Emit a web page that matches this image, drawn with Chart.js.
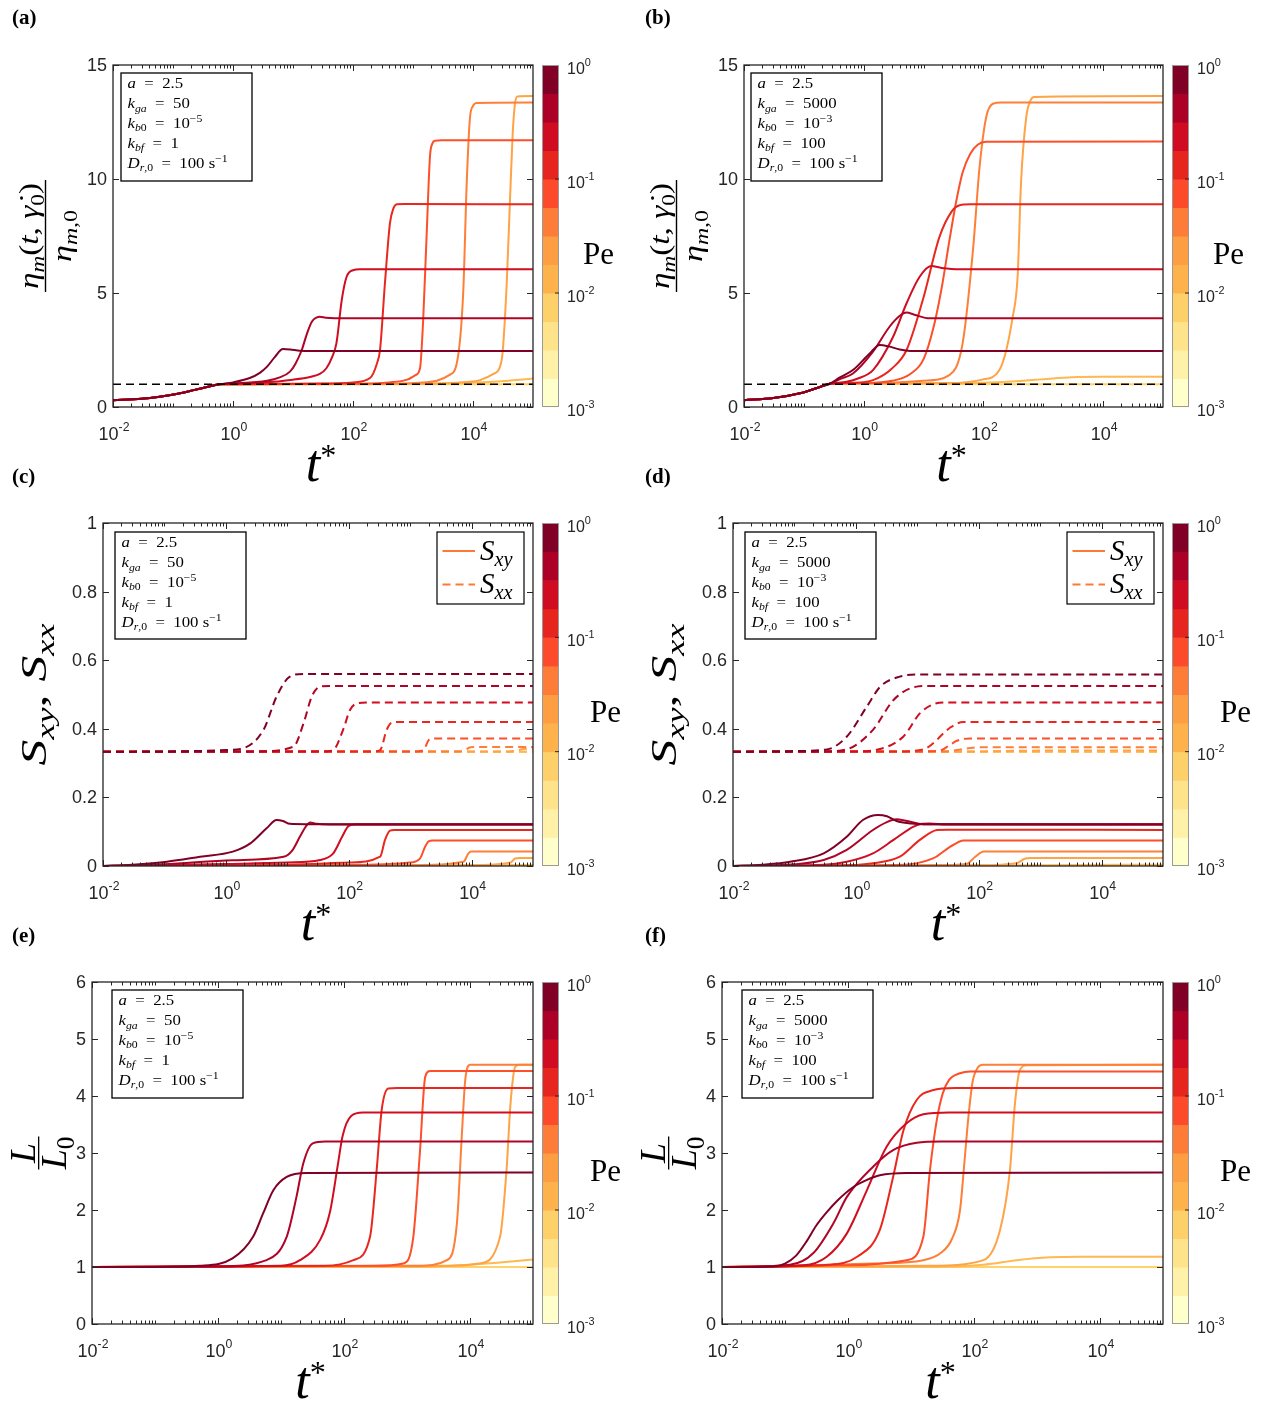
<!DOCTYPE html>
<html>
<head>
<meta charset="utf-8">
<script src="https://cdn.jsdelivr.net/npm/chart.js@4.4.1/dist/chart.umd.min.js"></script>
<style>
  html, body { margin: 0; padding: 0; background: #fff; }
  #fig { position: relative; width: 1266px; height: 1401px; }
  #fig canvas { position: absolute; left: 0; top: 0; }
</style>
</head>
<body>
<div id="fig">
  <canvas id="pa" width="1266" height="1401"></canvas>
  <canvas id="pb" width="1266" height="1401"></canvas>
  <canvas id="pc" width="1266" height="1401"></canvas>
  <canvas id="pd" width="1266" height="1401"></canvas>
  <canvas id="pe" width="1266" height="1401"></canvas>
  <canvas id="pf" width="1266" height="1401"></canvas>
</div>
<script>
// ---- axes / colour data ----
const T_MIN = 1e-2, T_MAX = 1e5;
const xMajorExp = [-2, 0, 2, 4];
const etaTicks = [0, 5, 10, 15];
const sTicks = [0, 0.2, 0.4, 0.6, 0.8, 1];
const lTicks = [0, 1, 2, 3, 4, 5, 6];
const peTickExp = [0, -1, -2, -3];
// colorbar bins, Pe = 1e-3 (bottom) ... 1 (top)
const peBins = ['#ffffcc', '#fff1a8', '#fee38a', '#fed06a', '#feb24c', '#fd9e43',
                '#fd7c38', '#fc4a2a', '#e6261e', '#cf0c22', '#ad0026', '#800026'];
// curve colours, highest Pe first
const lineColors = ['#800026', '#ae0426', '#d00d21', '#e8281e', '#fc4f2a',
                    '#fd7f38', '#fea346', '#feb951', '#fed36a'];
const refLine = [[1e-2, 1], [1e5, 1]];

// ---- (a) viscosity, kga = 50 ----
const etaEarlyA = [[0.01, 0.3], [0.03, 0.36], [0.06, 0.45], [0.12, 0.58], [0.23, 0.75], [0.4, 0.9], [0.6, 1.0]];
const etaA = [
  etaEarlyA.concat([[1, 1.08], [1.9, 1.27], [2.8, 1.5], [3.7, 1.77], [5, 2.2], [6.8, 2.54], [9, 2.52], [13, 2.47], [20, 2.46], [1e5, 2.46]]),
  etaEarlyA.concat([[1, 1.03], [3.7, 1.15], [6, 1.3], [8.9, 1.55], [11, 1.9], [14, 2.5], [17, 3.2], [20.6, 3.74], [25, 3.93], [28, 3.96], [35, 3.91], [50, 3.89], [1e5, 3.89]]),
  etaEarlyA.concat([[1, 1.02], [3, 1.07], [10, 1.2], [20, 1.33], [28, 1.45], [36, 1.7], [45, 2.2], [53, 2.8], [65, 4.7], [78, 5.7], [100, 6.0], [130, 6.04], [1e5, 6.04]]),
  etaEarlyA.concat([[1, 1.0], [30, 1.03], [100, 1.08], [192, 1.27], [250, 1.9], [282, 2.5], [340, 5.4], [413, 8.06], [470, 8.7], [537, 8.89], [700, 8.9], [1e5, 8.89]]),
  etaEarlyA.concat([[1, 1.0], [100, 1.02], [400, 1.08], [800, 1.2], [1100, 1.4], [1309, 1.7], [1486, 3.96], [1690, 7.6], [1920, 11.0], [2100, 11.55], [2330, 11.68], [3000, 11.7], [1e5, 11.7]]),
  etaEarlyA.concat([[1, 1.0], [300, 1.02], [1500, 1.08], [2500, 1.15], [4000, 1.4], [5346, 1.9], [6890, 5.1], [7850, 9.8], [8913, 12.7], [10000, 13.2], [11500, 13.33], [1e5, 13.35]]),
  etaEarlyA.concat([[1, 1.0], [2000, 1.02], [8000, 1.1], [13090, 1.18], [21900, 1.45], [30060, 2.06], [36460, 5.4], [41380, 9.1], [45900, 12.0], [50000, 13.3], [55000, 13.62], [1e5, 13.64]]),
  etaEarlyA.concat([[1, 1.0], [100, 1.0], [1000, 1.01], [3000, 1.03], [1e4, 1.07], [3e4, 1.13], [1e5, 1.25]]),
  etaEarlyA.concat([[1, 1.0], [1e5, 1.0]])
];

// ---- (b) viscosity, kga = 5000 ----
const etaEarlyB = [[0.01, 0.3], [0.031, 0.39], [0.086, 0.6], [0.19, 0.89], [0.27, 1.02]];
const etaB = [
  etaEarlyB.concat([[0.4, 1.3], [0.66, 1.62], [1.26, 2.35], [1.85, 2.72], [2.6, 2.66], [4, 2.52], [6, 2.46], [10, 2.46], [1e5, 2.46]]),
  etaEarlyB.concat([[0.4, 1.22], [0.66, 1.47], [1.43, 2.43], [2.7, 3.52], [4, 4.0], [5.2, 4.14], [7, 4.05], [12.6, 3.89], [1e5, 3.89]]),
  etaEarlyB.concat([[0.52, 1.11], [0.8, 1.25], [1.43, 1.62], [3.1, 3.08], [5.2, 4.55], [8.6, 5.71], [13.4, 6.18], [20, 6.1], [40, 6.04], [1e5, 6.04]]),
  etaEarlyB.concat([[0.6, 1.06], [1.43, 1.18], [3, 1.7], [5.2, 2.5], [9.7, 4.69], [18.5, 7.47], [30, 8.6], [40, 8.85], [60, 8.89], [1e5, 8.89]]),
  etaEarlyB.concat([[1, 1.05], [3, 1.15], [6, 1.45], [10, 2.1], [15, 3.6], [20, 5.2], [27, 7.3], [35, 9.0], [45, 10.3], [60, 11.1], [80, 11.5], [110, 11.63], [1e5, 11.65]]),
  etaEarlyB.concat([[1.43, 1.05], [10, 1.15], [27, 1.4], [45, 2.8], [67, 6.9], [86, 10.5], [111, 12.7], [144, 13.3], [200, 13.35], [1e5, 13.35]]),
  etaEarlyB.concat([[27, 1.05], [96, 1.2], [185, 1.62], [309, 3.96], [374, 5.8], [424, 9.8], [518, 12.7], [600, 13.4], [707, 13.6], [1e5, 13.64]]),
  etaEarlyB.concat([[30, 1.03], [100, 1.06], [300, 1.12], [1000, 1.22], [3000, 1.31], [1e4, 1.33], [1e5, 1.33]]),
  etaEarlyB.concat([[1, 1.01], [1e5, 1.0]])
];

// ---- (c) order parameters, kga = 50 ----
const sxyC = [
  [[0.01, 0], [0.03, 0.004], [0.11, 0.0125], [0.38, 0.027], [1.3, 0.042], [2.5, 0.066], [4.6, 0.11], [6.7, 0.134], [8.5, 0.131], [11, 0.123], [20, 0.122], [1e5, 0.122]],
  [[0.01, 0], [0.1, 0.005], [1.3, 0.017], [8.7, 0.027], [12, 0.045], [16, 0.085], [20, 0.115], [23.5, 0.127], [30, 0.123], [50, 0.121], [1e5, 0.121]],
  [[0.01, 0], [1, 0.006], [10, 0.01], [34, 0.0175], [56, 0.037], [78, 0.085], [100, 0.117], [130, 0.121], [1e5, 0.121]],
  [[0.01, 0], [10, 0.004], [100, 0.01], [325, 0.027], [390, 0.076], [470, 0.103], [550, 0.105], [1e5, 0.105]],
  [[0.01, 0], [100, 0.003], [1000, 0.01], [1450, 0.022], [1750, 0.056], [2000, 0.072], [2300, 0.074], [1e5, 0.074]],
  [[0.01, 0], [1000, 0.002], [7400, 0.0125], [8900, 0.037], [1e4, 0.042], [1.2e4, 0.042], [1e5, 0.042]],
  [[0.01, 0], [1e4, 0.002], [4.3e4, 0.01], [5.1e4, 0.022], [6e4, 0.023], [1e5, 0.023]],
  [[0.01, 0], [1e5, 0.003]],
  [[0.01, 0], [1e5, 0]]
];
const sxxC = [
  [[0.01, 0.333], [0.3, 0.335], [1, 0.338], [1.9, 0.343], [4.1, 0.397], [6.7, 0.494], [11, 0.552], [18.4, 0.56], [1e5, 0.56]],
  [[0.01, 0.333], [3, 0.334], [12.6, 0.348], [18.4, 0.416], [25, 0.494], [34, 0.523], [50, 0.525], [1e5, 0.525]],
  [[0.01, 0.333], [40, 0.334], [56, 0.338], [81, 0.397], [105, 0.455], [135, 0.474], [200, 0.477], [1e5, 0.477]],
  [[0.01, 0.333], [250, 0.334], [325, 0.338], [415, 0.397], [500, 0.418], [600, 0.42], [1e5, 0.42]],
  [[0.01, 0.333], [1300, 0.334], [1660, 0.338], [2000, 0.367], [2400, 0.372], [1e5, 0.372]],
  [[0.01, 0.333], [6000, 0.334], [7400, 0.336], [9600, 0.346], [12000, 0.347], [1e5, 0.347]],
  [[0.01, 0.333], [4e4, 0.334], [5.5e4, 0.337], [7e4, 0.341], [1e5, 0.342]],
  [[0.01, 0.333], [1e5, 0.333]],
  [[0.01, 0.333], [1e5, 0.333]]
];

// ---- (d) order parameters, kga = 5000 ----
const sxyD = [
  [[0.01, 0], [0.03, 0.004], [0.085, 0.0125], [0.3, 0.037], [0.71, 0.085], [1.3, 0.134], [2.3, 0.149], [3.2, 0.145], [4.6, 0.131], [8, 0.124], [12.6, 0.122], [1e5, 0.122]],
  [[0.01, 0], [0.1, 0.005], [0.3, 0.0175], [0.71, 0.047], [1.9, 0.105], [3.2, 0.128], [4.6, 0.136], [6.5, 0.132], [12.6, 0.122], [1e5, 0.121]],
  [[0.01, 0], [0.3, 0.004], [0.71, 0.0125], [1.9, 0.037], [4.1, 0.076], [8.7, 0.115], [12, 0.123], [16, 0.124], [30, 0.121], [1e5, 0.121]],
  [[0.01, 0], [1, 0.003], [1.9, 0.0077], [5.2, 0.027], [11, 0.076], [21, 0.105], [30, 0.106], [1e5, 0.105]],
  [[0.01, 0], [5, 0.003], [18, 0.022], [34, 0.056], [39, 0.062], [56, 0.074], [80, 0.074], [1e5, 0.074]],
  [[0.01, 0], [20, 0.002], [63, 0.006], [88, 0.027], [120, 0.042], [150, 0.042], [1e5, 0.042]],
  [[0.01, 0], [100, 0.002], [415, 0.008], [575, 0.022], [700, 0.023], [1e5, 0.023]],
  [[0.01, 0], [1000, 0.002], [1e5, 0.004]],
  [[0.01, 0], [1e5, 0]]
];
const sxxD = [
  [[0.01, 0.333], [0.1, 0.335], [0.34, 0.34], [0.71, 0.377], [1.5, 0.464], [2.5, 0.523], [5.2, 0.552], [10, 0.558], [1e5, 0.558]],
  [[0.01, 0.333], [0.3, 0.334], [0.71, 0.34], [1.9, 0.397], [4.1, 0.484], [8.7, 0.521], [15, 0.525], [1e5, 0.525]],
  [[0.01, 0.333], [1, 0.334], [1.9, 0.337], [5.9, 0.377], [11, 0.445], [18.4, 0.472], [30, 0.477], [1e5, 0.477]],
  [[0.01, 0.333], [5, 0.334], [12.6, 0.34], [30, 0.395], [34, 0.403], [56, 0.42], [1e5, 0.42]],
  [[0.01, 0.333], [10, 0.334], [23, 0.336], [34, 0.353], [44, 0.365], [73, 0.372], [1e5, 0.372]],
  [[0.01, 0.333], [30, 0.334], [44, 0.338], [81, 0.345], [120, 0.346], [1e5, 0.346]],
  [[0.01, 0.333], [100, 0.334], [400, 0.336], [1e5, 0.337]],
  [[0.01, 0.333], [1e5, 0.333]],
  [[0.01, 0.333], [1e5, 0.333]]
];

// ---- (e) rod length, kga = 50 ----
const lenE = [
  [[0.01, 1], [0.1, 1.0], [0.51, 1.02], [1.7, 1.15], [3.6, 1.53], [5.2, 1.94], [7.6, 2.35], [12.3, 2.58], [25.6, 2.65], [1e5, 2.66]],
  [[0.01, 1], [1, 1.01], [5.9, 1.12], [12.3, 1.53], [17.6, 2.23], [22.6, 2.82], [32, 3.17], [50, 3.2], [1e5, 3.2]],
  [[0.01, 1], [10, 1.02], [20, 1.12], [42, 1.48], [60, 1.97], [80, 2.8], [95, 3.3], [130, 3.65], [200, 3.71], [1e5, 3.71]],
  [[0.01, 1], [50, 1.02], [141, 1.12], [259, 1.53], [330, 2.7], [396, 3.75], [505, 4.13], [700, 4.14], [1e5, 4.14]],
  [[0.01, 1], [300, 1.02], [870, 1.06], [1260, 1.53], [1600, 3.0], [1950, 4.34], [2350, 4.44], [1e5, 4.44]],
  [[0.01, 1], [1500, 1.02], [4300, 1.12], [6200, 1.77], [7400, 3.29], [8400, 4.28], [10000, 4.55], [1e5, 4.55]],
  [[0.01, 1], [5000, 1.02], [1.4e4, 1.06], [3e4, 1.53], [3.8e4, 2.7], [4.4e4, 3.87], [5.2e4, 4.51], [6e4, 4.55], [1e5, 4.55]],
  [[0.01, 1], [1000, 1.0], [1e4, 1.04], [3e4, 1.08], [1e5, 1.13]],
  [[0.01, 1], [1e5, 1.0]]
];

// ---- (f) rod length, kga = 5000 ----
const lenF = [
  [[0.01, 1], [0.065, 1.01], [0.1, 1.06], [0.15, 1.2], [0.22, 1.45], [0.31, 1.72], [0.45, 1.95], [0.7, 2.18], [1.2, 2.4], [2, 2.53], [3.2, 2.61], [8.5, 2.65], [1e5, 2.66]],
  [[0.01, 1], [0.12, 1.04], [0.28, 1.24], [0.59, 1.77], [0.96, 2.23], [2.5, 2.76], [5.2, 3.05], [12.3, 3.18], [30, 3.2], [1e5, 3.2]],
  [[0.01, 1], [0.2, 1.03], [0.46, 1.18], [0.96, 1.59], [2, 2.35], [4.1, 3.11], [8.5, 3.52], [15.7, 3.68], [40, 3.71], [1e5, 3.71]],
  [[0.01, 1], [0.5, 1.04], [1.4, 1.18], [3.2, 1.65], [5.2, 2.58], [7.6, 3.4], [12.3, 3.93], [22, 4.1], [50, 4.14], [1e5, 4.14]],
  [[0.01, 1], [1, 1.03], [8.5, 1.12], [15.7, 1.53], [20, 2.7], [25.7, 3.58], [32, 4.05], [40, 4.28], [60, 4.4], [87, 4.43], [1e5, 4.43]],
  [[0.01, 1], [2.5, 1.06], [15.7, 1.12], [30, 1.25], [45, 1.5], [60, 2.0], [70, 2.8], [81, 3.6], [95, 4.25], [115, 4.5], [140, 4.55], [1e5, 4.55]],
  [[0.01, 1], [20, 1.02], [141, 1.12], [259, 1.65], [372, 2.7], [447, 3.87], [537, 4.46], [690, 4.54], [1e5, 4.55]],
  [[0.01, 1], [10, 1.0], [141, 1.04], [480, 1.12], [1600, 1.17], [5000, 1.18], [1e5, 1.18]],
  [[0.01, 1], [1e5, 1.0]]
];

// ---- text helpers ----
const SERIF = '"Liberation Serif", "DejaVu Serif", serif';
const SANS = '"Liberation Sans", "DejaVu Sans", Arial, sans-serif';
const INK = '#262626';
const EQ = '\u2002=\u2002';

function seg(t, o = {}) { return { t, it: !!o.it, k: o.k || 1, dy: o.dy || 0, font: o.font || SERIF, bold: !!o.bold }; }
const I = t => seg(t, { it: true });
const R = t => seg(t);
const SbI = t => seg(t, { it: true, k: 0.7, dy: 0.22 });
const SbR = t => seg(t, { k: 0.7, dy: 0.22 });
const Sp = t => seg(t, { k: 0.7, dy: -0.42 });

function fontOf(s, size) {
  return (s.it ? 'italic ' : '') + (s.bold ? 'bold ' : '') + (size * s.k).toFixed(2) + 'px ' + s.font;
}
function richWidth(ctx, segs, size) {
  let w = 0;
  for (const s of segs) { ctx.font = fontOf(s, size); w += ctx.measureText(s.t).width; }
  return w;
}
// fit: target width in px, or a negative number meaning "stretch by this factor"
function drawRich(ctx, segs, x, y, size, align, fit) {
  const w = richWidth(ctx, segs, size);
  const sx = fit ? (fit < 0 ? -fit : fit / w) : 1;
  const tw = w * sx;
  const x0 = align === 'center' ? x - tw / 2 : align === 'right' ? x - tw : x;
  ctx.save();
  ctx.translate(x0, y);
  ctx.scale(sx, 1);
  ctx.textAlign = 'left';
  ctx.textBaseline = 'alphabetic';
  let u = 0;
  for (const s of segs) {
    ctx.font = fontOf(s, size);
    ctx.fillText(s.t, u, s.dy * size);
    u += ctx.measureText(s.t).width;
  }
  ctx.restore();
}

const paramsLow = [
  [I('a'), R(EQ + '2.5')],
  [I('k'), SbI('ga'), R(EQ + '50')],
  [I('k'), SbI('b'), SbR('0'), R(EQ + '10'), Sp('\u22125')],
  [I('k'), SbI('bf'), R(EQ + '1')],
  [I('D'), SbI('r'), SbR(',0'), R(EQ + '100 s'), Sp('\u22121')]
];
const paramsHigh = [
  [I('a'), R(EQ + '2.5')],
  [I('k'), SbI('ga'), R(EQ + '5000')],
  [I('k'), SbI('b'), SbR('0'), R(EQ + '10'), Sp('\u22123')],
  [I('k'), SbI('bf'), R(EQ + '100')],
  [I('D'), SbI('r'), SbR(',0'), R(EQ + '100 s'), Sp('\u22121')]
];

function drawYLabel(ctx, kind, a, dx) {
  const cy = (a.top + a.bottom) / 2;
  ctx.save();
  ctx.translate(0, cy);
  ctx.rotate(-Math.PI / 2);
  ctx.fillStyle = '#000';
  if (kind === 'eta') {
    drawRich(ctx, [I('\u03b7'), SbI('m'), R('('), I('t'), R(', '), I('\u03b3\u0307'), SbR('0'), R(')')], 0, 38 + dx, 28, 'center', 106);
    ctx.fillRect(-56, 44.8 + dx, 112, 1.4);
    drawRich(ctx, [I('\u03b7'), SbI('m'), SbR(',0')], 0, 71 + dx, 28, 'center', 52);
  } else if (kind === 's') {
    drawRich(ctx, [I('S'), SbI('xy'), R(', '), I('S'), SbI('xx')], 0, 46 + dx, 36, 'center', 142);
  } else {
    drawRich(ctx, [I('L')], 0, 35 + dx, 36, 'center');
    ctx.fillRect(-16.5, 38 + dx, 33, 1.3);
    drawRich(ctx, [I('L'), SbR('0')], 0, 66 + dx, 36, 'center');
  }
  ctx.restore();
}

function drawColorbar(ctx, a, peX) {
  const x0 = a.right + 9, w = 17, top = a.top, bot = a.bottom;
  const h = (bot - top) / peBins.length;
  peBins.forEach((c, i) => {
    ctx.fillStyle = c;
    ctx.fillRect(x0, bot - (i + 1) * h, w, h + 0.5);
  });
  ctx.strokeStyle = '#9a9a9a';
  ctx.lineWidth = 1;
  ctx.strokeRect(x0 + 0.5, top + 0.5, w - 1, bot - top - 1);
  ctx.strokeStyle = INK;
  ctx.fillStyle = INK;
  peTickExp.forEach((e, i) => {
    const y = top + (bot - top) * i / (peTickExp.length - 1);
    if (i > 0 && i < peTickExp.length - 1) {
      ctx.beginPath(); ctx.moveTo(x0 + w, y); ctx.lineTo(x0 + w - 4, y); ctx.stroke();
    }
    drawRich(ctx, [seg('10', { font: SANS }), seg(String(e), { font: SANS, k: 0.68, dy: -0.5 })], x0 + w + 8, y + 8.5, 16, 'left');
  });
  ctx.fillStyle = '#000';
  drawRich(ctx, [R('Pe')], peX, (top + bot) / 2 + 27.5, 31, 'left');
}

function drawParams(ctx, box, lines) {
  const [l, t, r, b] = box;
  ctx.fillStyle = '#fff';
  ctx.fillRect(l, t, r - l, b - t);
  ctx.strokeStyle = '#000';
  ctx.lineWidth = 1.3;
  ctx.strokeRect(l, t, r - l, b - t);
  ctx.fillStyle = '#000';
  lines.forEach((ln, i) => drawRich(ctx, ln, l + 6.5, t + 15.3 + i * 19.9, 15, 'left', -1.12));
}

function drawLegend(ctx, box) {
  const [l, t, r, b] = box;
  ctx.fillStyle = '#fff';
  ctx.fillRect(l, t, r - l, b - t);
  ctx.strokeStyle = '#000';
  ctx.lineWidth = 1.2;
  ctx.strokeRect(l, t, r - l, b - t);
  ctx.strokeStyle = '#fd7a36';
  ctx.lineWidth = 2;
  ctx.beginPath(); ctx.moveTo(l + 5.5, t + 19); ctx.lineTo(l + 38, t + 19); ctx.stroke();
  ctx.setLineDash([8, 5]);
  ctx.beginPath(); ctx.moveTo(l + 5.5, t + 52.5); ctx.lineTo(l + 38, t + 52.5); ctx.stroke();
  ctx.setLineDash([]);
  ctx.fillStyle = '#000';
  drawRich(ctx, [I('S'), SbI('xy')], l + 43, t + 28, 29, 'left');
  drawRich(ctx, [I('S'), SbI('xx')], l + 43, t + 61, 29, 'left');
}

function framePlugin(P) {
  return {
    id: 'frame_' + P.id,
    afterDraw(chart) {
      const ctx = chart.ctx, a = chart.chartArea;
      const xs = chart.scales.x, ys = chart.scales.y;
      ctx.save();
      // ticks (inside, all four sides)
      ctx.strokeStyle = INK;
      ctx.lineWidth = 1;
      ctx.beginPath();
      for (let e = -2; e <= 4; e++) {
        for (let m = 1; m <= 9; m++) {
          const v = m * Math.pow(10, e);
          if (v > T_MAX * 1.0001) continue;
          const px = Math.round(xs.getPixelForValue(v)) + 0.5;
          const len = (m === 1 && xMajorExp.includes(e)) ? 6 : 3.5;
          ctx.moveTo(px, a.bottom); ctx.lineTo(px, a.bottom - len);
          ctx.moveTo(px, a.top); ctx.lineTo(px, a.top + len);
        }
      }
      for (const v of P.yTicks) {
        const py = Math.round(ys.getPixelForValue(v)) + 0.5;
        ctx.moveTo(a.left, py); ctx.lineTo(a.left + 6, py);
        ctx.moveTo(a.right, py); ctx.lineTo(a.right - 6, py);
      }
      ctx.stroke();
      ctx.lineWidth = 1.3;
      ctx.strokeRect(a.left, a.top, a.right - a.left, a.bottom - a.top);

      // tick labels
      ctx.fillStyle = INK;
      for (const e of xMajorExp) {
        const px = xs.getPixelForValue(Math.pow(10, e));
        drawRich(ctx, [seg('10', { font: SANS }), seg(String(e), { font: SANS, k: 0.68, dy: -0.5 })], px + 1, a.bottom + 33, 18, 'center');
      }
      ctx.font = '18px ' + SANS;
      ctx.textAlign = 'right';
      ctx.textBaseline = 'middle';
      for (const v of P.yTicks) {
        ctx.fillText(String(v), a.left - 6, ys.getPixelForValue(v) + 1);
      }

      // axis labels
      ctx.fillStyle = '#000';
      drawRich(ctx, [I('t'), seg('*', { k: 0.62, dy: -0.28 })], (a.left + a.right) / 2 - 2, a.bottom + 74, 52, 'center');
      drawYLabel(ctx, P.ylabel, a, P.dx);

      drawColorbar(ctx, a, P.peX);
      drawParams(ctx, P.params, P.paramLines);
      if (P.legend) drawLegend(ctx, P.legend);

      // panel tag
      ctx.fillStyle = '#000';
      drawRich(ctx, [seg(P.tag, { bold: true })], P.tagPos[0], P.tagPos[1], 21, 'left');
      ctx.restore();
    }
  };
}

function curveSet(curves, dashed) {
  return curves.map((pts, i) => ({
    data: pts.map(([x, y]) => ({ x, y })),
    borderColor: lineColors[i],
    borderWidth: 2,
    borderDash: dashed ? [8, 5] : [],
    pointRadius: 0,
    fill: false,
    cubicInterpolationMode: 'monotone'
  }));
}

const panels = [
  { id: 'pa', tag: '(a)', tagPos: [12, 24], area: [113, 65, 533, 407], yMax: 15, yTicks: etaTicks, ylabel: 'eta', dx: 0, peX: 583,
    params: [121, 73, 252, 181], paramLines: paramsLow, solid: etaA, dashed: null, ref: true },
  { id: 'pb', tag: '(b)', tagPos: [645, 24], area: [744, 65, 1163, 407], yMax: 15, yTicks: etaTicks, ylabel: 'eta', dx: 631, peX: 1213,
    params: [751, 73, 882, 181], paramLines: paramsHigh, solid: etaB, dashed: null, ref: true },
  { id: 'pc', tag: '(c)', tagPos: [12, 483], area: [103, 523, 533, 866], yMax: 1, yTicks: sTicks, ylabel: 's', dx: 0, peX: 590,
    params: [115, 532, 246, 639], paramLines: paramsLow, solid: sxyC, dashed: sxxC, legend: [437, 532, 524, 604] },
  { id: 'pd', tag: '(d)', tagPos: [645, 483], area: [733, 523, 1163, 866], yMax: 1, yTicks: sTicks, ylabel: 's', dx: 630, peX: 1220,
    params: [745, 532, 876, 639], paramLines: paramsHigh, solid: sxyD, dashed: sxxD, legend: [1067, 532, 1154, 604] },
  { id: 'pe', tag: '(e)', tagPos: [12, 942], area: [92, 982, 533, 1324], yMax: 6, yTicks: lTicks, ylabel: 'l', dx: 0, peX: 590,
    params: [112, 990, 243, 1098], paramLines: paramsLow, solid: lenE, dashed: null },
  { id: 'pf', tag: '(f)', tagPos: [645, 942], area: [722, 982, 1163, 1324], yMax: 6, yTicks: lTicks, ylabel: 'l', dx: 630, peX: 1220,
    params: [742, 990, 873, 1098], paramLines: paramsHigh, solid: lenF, dashed: null }
];

for (const P of panels) {
  const [l, t, r, b] = P.area;
  let datasets = [];
  if (P.ref) {
    datasets.push({
      data: refLine.map(([x, y]) => ({ x, y })),
      borderColor: '#000', borderWidth: 1.5, borderDash: [8, 5], pointRadius: 0, fill: false
    });
  }
  datasets = datasets.concat(curveSet(P.solid, false));
  if (P.dashed) datasets = datasets.concat(curveSet(P.dashed, true));

  new Chart(document.getElementById(P.id), {
    type: 'line',
    data: { datasets },
    options: {
      responsive: false,
      animation: false,
      events: [],
      layout: { padding: { left: l, top: t, right: 1266 - r, bottom: 1401 - b } },
      scales: {
        x: { type: 'logarithmic', min: T_MIN, max: T_MAX, display: false },
        y: { type: 'linear', min: 0, max: P.yMax, display: false }
      },
      plugins: { legend: { display: false }, tooltip: { enabled: false } }
    },
    plugins: [framePlugin(P)]
  });
}
</script>
</body>
</html>
